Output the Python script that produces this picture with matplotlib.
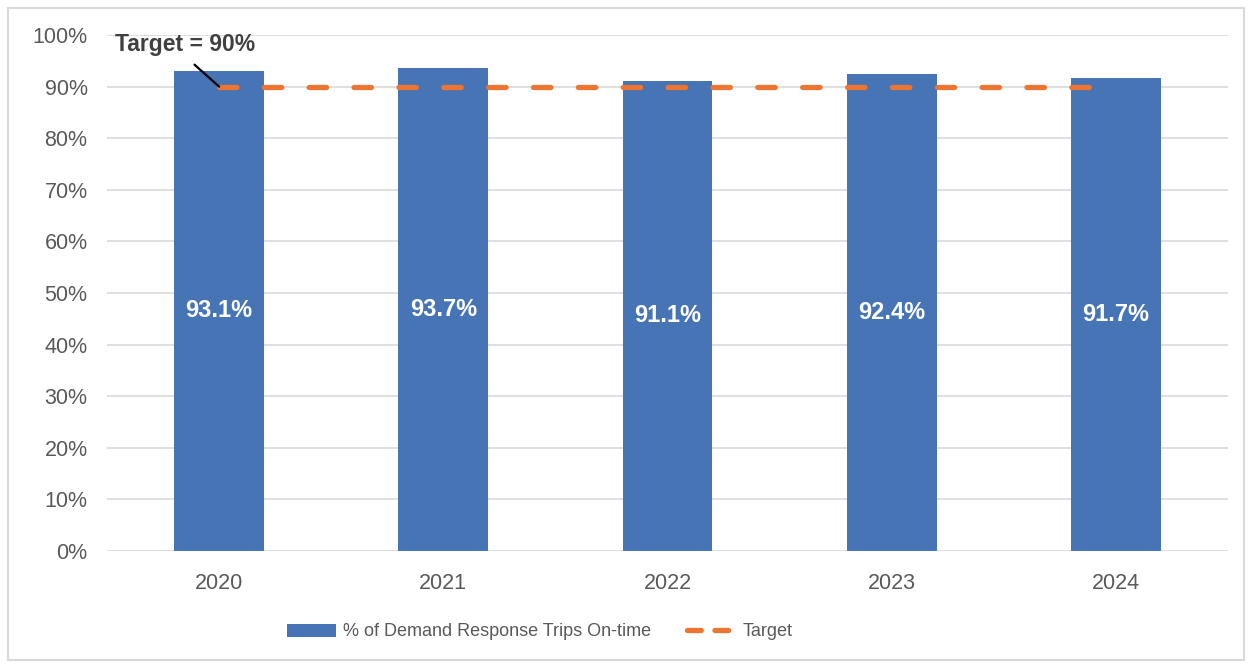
import matplotlib.pyplot as plt
from matplotlib.lines import Line2D
from matplotlib.patches import Rectangle
from matplotlib.ticker import PercentFormatter

plt.rcParams['font.family'] = ['Liberation Sans', 'DejaVu Sans']

years = ['2020', '2021', '2022', '2023', '2024']
on_time = [93.1, 93.7, 91.1, 92.4, 91.7]
target = [90, 90, 90, 90, 90]

fig = plt.figure(figsize=(12.52, 6.65), dpi=100)
ax = fig.add_axes([107 / 1252, 1 - 551 / 665, 1121 / 1252, 516 / 665])

# light border around the whole chart
fig.patches.append(Rectangle((8 / 1252, 5 / 665), 1236 / 1252, 652 / 665,
                             transform=fig.transFigure, fill=False,
                             edgecolor='#d9d9d9', linewidth=1.5))

orange = '#ec7531'
x = list(range(len(years)))
bars = ax.bar(x, on_time, width=0.4, color='#4674b5', zorder=2,
              label='% of Demand Response Trips On-time')
ax.plot(x, target, color=orange, linewidth=3.8, dashes=(3.3, 5.2),
        dash_capstyle='round', zorder=3)

for xi, v in zip(x, on_time):
    ax.text(xi, v / 2, f'{v:.1f}%', ha='center', va='center',
            color='white', fontsize=17, fontweight='bold')

ax.annotate('Target = 90%', xy=(0, 90), xytext=(-0.464, 98.1),
            fontsize=16.5, fontweight='bold', color='#404040',
            ha='left', va='center',
            arrowprops=dict(arrowstyle='-', color='black', lw=1.6,
                            shrinkA=6, shrinkB=0, relpos=(0.5, 0)))

ax.set_xlim(-0.5, 4.5)
ax.set_ylim(0, 100)
ax.set_yticks(range(0, 101, 10))
ax.yaxis.set_major_formatter(PercentFormatter(decimals=0))
ax.set_xticks(x)
ax.set_xticklabels(years)
ax.grid(axis='y', color='#d9d9d9', linewidth=1.2, zorder=0)
for s in ax.spines.values():
    s.set_visible(False)
ax.tick_params(length=0, labelsize=15.5, labelcolor='#595959')
ax.tick_params(axis='y', pad=14)
ax.tick_params(axis='x', pad=16)

# legend: short two-dash sample for the target line
target_handle = Line2D([], [], color=orange, linewidth=3.8, dashes=(2.6, 2.6),
                       dash_capstyle='round')
leg = fig.legend([bars, target_handle],
                 ['% of Demand Response Trips On-time', 'Target'],
                 loc='center', bbox_to_anchor=(540 / 1252, 1 - 632 / 665),
                 ncol=2, frameon=False, fontsize=13, handlelength=2.7,
                 columnspacing=2.0, handletextpad=0.4)
for t in leg.get_texts():
    t.set_color('#595959')

fig.savefig('out.png', dpi=100)
